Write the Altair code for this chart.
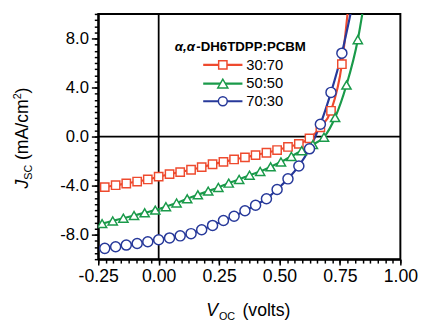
import altair as alt
import pandas as pd

FONT = "Liberation Sans"

series_names = ["30:70", "50:50", "70:30"]
series_colors = ["#ee4a2e", "#1a9a4a", "#27399a"]
series_shapes = ["square", "triangle-up", "circle"]
series_sizes = [72, 105, 82]

# 30:70 (red squares)
v_3070 = [-0.223, -0.178, -0.134, -0.089, -0.045, 0.0, 0.045, 0.089, 0.134, 0.178,
          0.223, 0.268, 0.312, 0.357, 0.401, 0.446, 0.49, 0.535, 0.58, 0.624,
          0.669, 0.713, 0.758]
j_3070 = [-4.13, -3.97, -3.83, -3.67, -3.50, -3.27, -3.07, -2.90, -2.71, -2.50,
          -2.26, -2.07, -1.87, -1.70, -1.52, -1.32, -1.10, -0.85, -0.60, -0.15,
          0.75, 2.10, 5.90]
v_3070_end = [0.785]
j_3070_end = [10.7]

# 50:50 (green triangles)
v_5050 = [-0.234, -0.19, -0.146, -0.102, -0.058, -0.014, 0.03, 0.074, 0.118, 0.162,
          0.205, 0.247, 0.29, 0.333, 0.376, 0.42, 0.463, 0.506, 0.549, 0.592,
          0.638, 0.684, 0.73, 0.777, 0.824]
j_5050 = [-7.10, -6.88, -6.66, -6.44, -6.22, -6.00, -5.72, -5.42, -5.08, -4.75,
          -4.45, -4.15, -3.80, -3.50, -3.15, -2.85, -2.47, -2.07, -1.62, -1.15,
          -0.65, -0.05, 1.55, 4.20, 7.90]
v_5050_end = [0.85]
j_5050_end = [10.9]

# 70:30 (blue circles)
v_7030 = [-0.223, -0.178, -0.134, -0.089, -0.045, 0.0, 0.045, 0.089, 0.134, 0.178,
          0.223, 0.268, 0.312, 0.357, 0.401, 0.446, 0.49, 0.535, 0.58, 0.624,
          0.669, 0.713, 0.758]
j_7030 = [-9.12, -8.99, -8.85, -8.72, -8.58, -8.42, -8.27, -8.10, -7.92, -7.60,
          -7.25, -6.85, -6.50, -6.05, -5.60, -5.07, -4.32, -3.45, -2.40, -1.00,
          1.00, 3.60, 6.80]
v_7030_end = [0.80]
j_7030_end = [10.6]

x_major = [-0.25, 0.0, 0.25, 0.50, 0.75, 1.00]
y_major = [-8, -4, 0, 4, 8]
x_minor = [round(-0.25 + i * 0.03125, 5) for i in range(41)]
y_minor = [round(-10 + i * 0.5, 2) for i in range(41)]

rows = []
for name, vs, js, ve, je in [
    ("30:70", v_3070, j_3070, v_3070_end, j_3070_end),
    ("50:50", v_5050, j_5050, v_5050_end, j_5050_end),
    ("70:30", v_7030, j_7030, v_7030_end, j_7030_end),
]:
    for v, j in zip(vs, js):
        rows.append({"V": v, "J": j, "series": name, "marker": True})
    for v, j in zip(ve, je):
        rows.append({"V": v, "J": j, "series": name, "marker": False})
df = pd.DataFrame(rows)

xscale = alt.Scale(domain=[-0.25, 1.0], nice=False, zero=False)
yscale = alt.Scale(domain=[-10, 10], nice=False, zero=False)
color_scale = alt.Scale(domain=series_names, range=series_colors)
shape_scale = alt.Scale(domain=series_names, range=series_shapes)
size_scale = alt.Scale(domain=series_names, range=series_sizes)

major_x = alt.Axis(values=x_major, orient="bottom",
                   labelExpr="replace(format(datum.value, '.2f'), '\u2212', '-')",
                   tickSize=6, tickWidth=1.5, tickColor="black",
                   domain=True, domainColor="black", domainWidth=2,
                   labelFontSize=18, labelColor="black", labelFont=FONT,
                   labelPadding=3, labelFlush=False, labelOverlap=False,
                   grid=False, title=None)
minor_x = alt.Axis(values=x_minor, orient="bottom", labels=False, tickSize=4,
                   tickWidth=1.5, tickColor="black", domain=False, grid=False, title=None)
major_y = alt.Axis(values=y_major, orient="left",
                   labelExpr="replace(format(datum.value, '.1f'), '\u2212', '-')",
                   tickSize=7, tickWidth=1.5, tickColor="black",
                   domain=True, domainColor="black", domainWidth=2,
                   labelFontSize=17, labelColor="black", labelFont=FONT,
                   labelPadding=3, labelFlush=False, labelOverlap=False,
                   grid=False, title=None)
minor_y = alt.Axis(values=y_minor, orient="left", labels=False, tickSize=4,
                   tickWidth=1.5, tickColor="black", domain=False, grid=False, title=None)

zero_df = pd.DataFrame({"z": [0]})
vzero = alt.Chart(zero_df).mark_rule(color="black", strokeWidth=1.8).encode(
    x=alt.X("z:Q", scale=xscale, axis=None))
hzero = alt.Chart(zero_df).mark_rule(color="black", strokeWidth=1.8).encode(
    y=alt.Y("z:Q", scale=yscale, axis=None))

lines = alt.Chart(df).mark_line(interpolate="monotone", clip=True, strokeWidth=2.2).encode(
    x=alt.X("V:Q", scale=xscale, axis=major_x),
    y=alt.Y("J:Q", scale=yscale, axis=major_y),
    color=alt.Color("series:N", scale=color_scale, legend=None),
    order=alt.Order("V:Q"),
)

points = alt.Chart(df).transform_filter("datum.marker").mark_point(
    filled=True, strokeWidth=1.5, opacity=1, clip=True).encode(
    x=alt.X("V:Q", scale=xscale, axis=minor_x),
    y=alt.Y("J:Q", scale=yscale, axis=minor_y),
    stroke=alt.Stroke("series:N", scale=color_scale, legend=None),
    fill=alt.value("white"),
    shape=alt.Shape("series:N", scale=shape_scale, legend=None),
    size=alt.Size("series:N", scale=size_scale, legend=None),
)

one = pd.DataFrame({"t": [0]})


def txt(text, x, y, size, angle=0, style="normal", weight="normal", baseline="alphabetic"):
    kw = dict(text=text, font=FONT, fontSize=size, fontStyle=style, fontWeight=weight,
              align="left", baseline=baseline, color="black")
    if angle:
        kw["angle"] = angle
    return alt.Chart(one).mark_text(**kw).encode(x=alt.value(x), y=alt.value(y))


titles = [
    # y title
    txt("J", -72, 178, 18, angle=270, style="italic"),
    txt("SC", -68, 169, 11, angle=270),
    txt("(mA/cm", -72, 149, 18, angle=270),
    txt("2", -79, 87, 11, angle=270),
    txt(")", -72, 81, 18, angle=270),
    # x title
    txt("V", 110, 308, 18, style="italic"),
    txt("OC", 123, 312, 11),
    txt("(volts)", 147, 308, 18),
    # legend title
    txt("\u03b1,\u03b1", 78, 34, 13.5, style="italic", weight="bold", baseline="middle"),
    txt("-DH6TDPP:PCBM", 100, 34, 13.5, weight="bold", baseline="middle"),
]

legend_rows = [52, 71, 89]
legend_layers = []
for name, col, shp, sz, ly in zip(series_names, series_colors, series_shapes, series_sizes, legend_rows):
    legend_layers.append(alt.Chart(one).mark_rule(color=col, strokeWidth=2.2).encode(
        x=alt.value(107), x2=alt.value(147), y=alt.value(ly)))
    legend_layers.append(alt.Chart(one).mark_point(
        shape=shp, filled=True, fill="white", stroke=col, strokeWidth=1.5, size=sz, opacity=1).encode(
        x=alt.value(127), y=alt.value(ly)))
    legend_layers.append(txt(name, 151, ly, 15, baseline="middle"))

chart = alt.layer(vzero, hzero, lines, points, *titles, *legend_layers).resolve_axis(
    x="independent", y="independent"
).properties(
    width=308, height=250,
    autosize=alt.AutoSizeParams(type="none"),
    padding={"left": 92, "top": 3, "right": 19, "bottom": 60},
).configure_view(stroke="black", strokeWidth=2)

chart.save("out.html", embed_options={"renderer": "svg", "actions": False})
